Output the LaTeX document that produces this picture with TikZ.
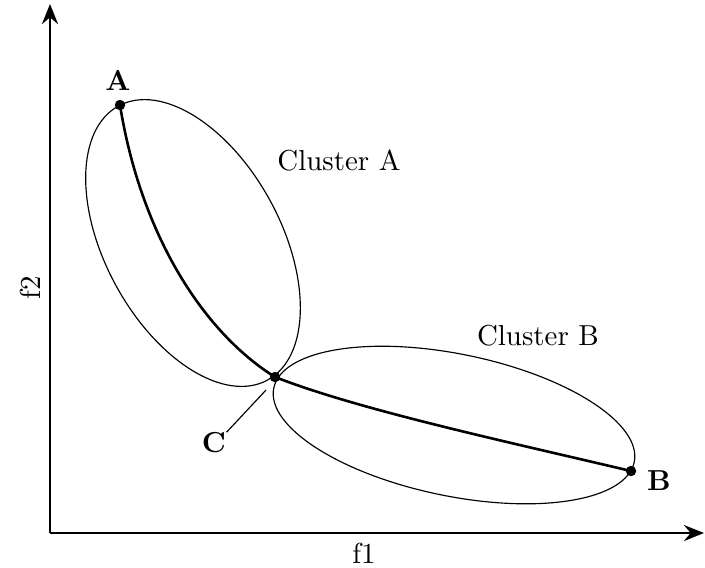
\documentclass[tikz,border=0pt]{standalone}
\usetikzlibrary{arrows.meta}
\begin{document}
\begin{tikzpicture}[x=0.346pt,y=-0.346pt,
  axis/.style={line width=0.45pt,-{Stealth[length=7pt,width=5.6pt,inset=2.4pt]}},
  clust/.style={line width=0.4pt},
  front/.style={line width=0.9pt},
  dot/.style={circle,fill=black,inner sep=0pt,minimum size=3.6pt},
  ptlab/.style={font=\bfseries,inner sep=1pt},
  lab/.style={inner sep=1pt}]
\useasboundingbox (0,0) rectangle (705,567);
% axes
\coordinate (O) at (50,533);
\coordinate (xend) at (704,533);
\coordinate (yend) at (50,4);
\draw[axis] (O) -- (xend);
\draw[axis] (O) -- (yend);
\node[lab] (f1) at (364,553) {f1};
\node[lab,rotate=90] (f2) at (30,288) {f2};
% clusters
\draw[clust,rotate around={-61.5:(193,243)}] (193,243) ellipse [x radius=156, y radius=88];
\draw[clust,rotate around={-11.6:(454,425)}] (454,425) ellipse [x radius=184, y radius=71];
\node[lab] (cA) at (339,160) {Cluster A};
\node[lab] (cB) at (538,336) {Cluster B};
% points
\node[dot] (A) at (120,105) {};
\node[dot] (C) at (275,377) {};
\node[dot] (B) at (631,471) {};
\draw[front] (A.center) .. controls (140,230) and (200,330) .. (C.center);
\draw[front] (C.center) .. controls (360,410) and (500,440) .. (B.center);
% labels
\node[ptlab] (Alab) at (118,80) {A};
\node[ptlab] (Blab) at (659,481) {B};
\node[ptlab,inner sep=0pt] (Clab) at (214,443) {C};
\coordinate (Ct) at (266,390);
\draw[line width=0.4pt] (Ct) -- (Clab.north east);
\end{tikzpicture}
\end{document}
